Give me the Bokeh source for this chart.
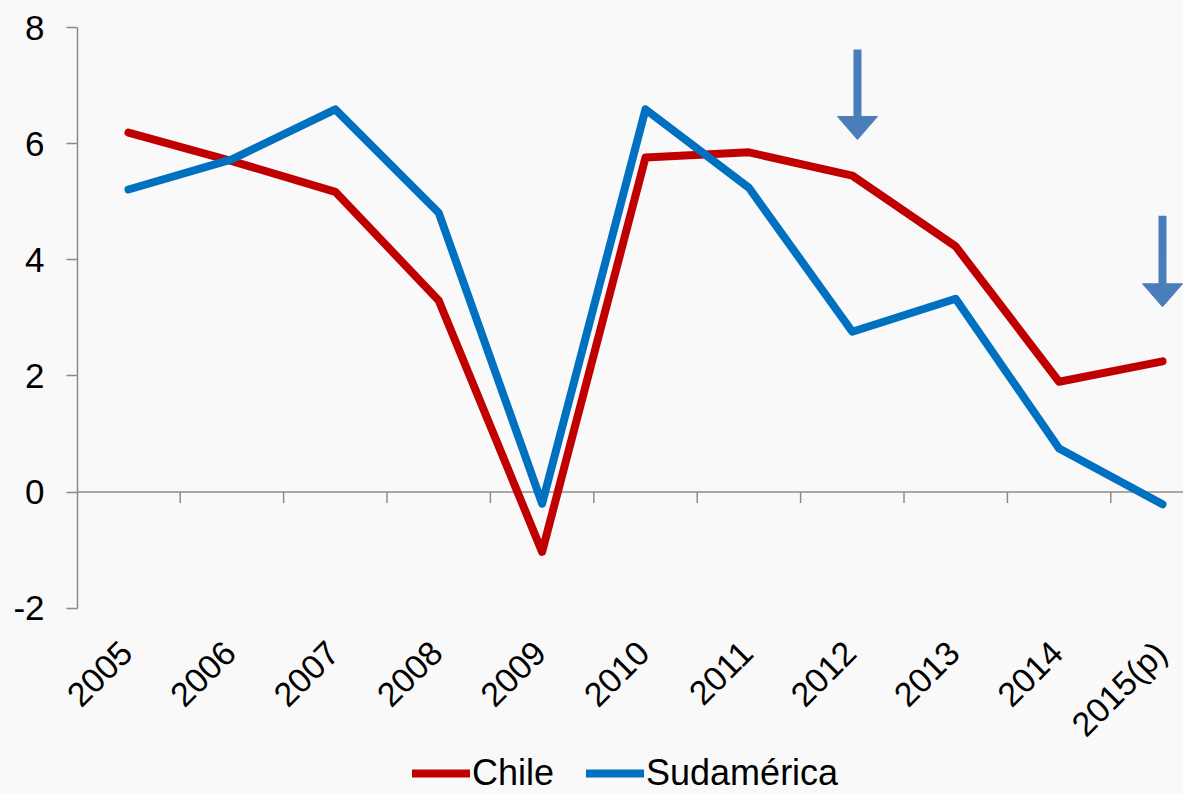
import math
from bokeh.plotting import figure
from bokeh.models import Range1d, FixedTicker, Legend, LegendItem
from bokeh.core.properties import value
from bokeh.embed import file_html
from bokeh.resources import INLINE

# ---- data ----
years = ["2005", "2006", "2007", "2008", "2009", "2010", "2011", "2012", "2013", "2014", "2015(p)"]
chile = [6.19, 5.70, 5.17, 3.30, -1.03, 5.76, 5.85, 5.45, 4.23, 1.90, 2.25]
sudamerica = [5.21, 5.73, 6.59, 4.81, -0.20, 6.59, 5.24, 2.76, 3.33, 0.75, -0.21]
y_ticks = [-2, 0, 2, 4, 6, 8]

# annotation arrows (category index, top value, tip value)
arrow_x = [7.05, 10]
arrow_top = [7.62, 4.76]
arrow_tip = [6.07, 3.19]

FONT = "Liberation Sans"
RED = "#c00000"
BLUE = "#0070c0"
ARROW = "#4a7ebb"
GREY = "#8c8c8c"
BG = "#f9f9f9"

W, H = 1183, 794
TOP_PX = 27                # pixel position of the top value tick
PX_PER_UNIT = 58.07        # vertical scale of the value axis
PX_PER_CAT = 103.4         # horizontal spacing of categories
FIRST_CAT_PX = 128         # pixel position of first category
AXIS_PX = 77               # pixel position of the value axis

x_start = -FIRST_CAT_PX / PX_PER_CAT
x_end = x_start + W / PX_PER_CAT
axis_x = (AXIS_PX - FIRST_CAT_PX) / PX_PER_CAT
y_end = y_ticks[-1] + TOP_PX / PX_PER_UNIT
y_start = y_end - H / PX_PER_UNIT

p = figure(width=W, height=H, output_backend="svg", toolbar_location=None,
           x_range=Range1d(x_start, x_end), y_range=Range1d(y_start, y_end),
           x_axis_location=None,
           min_border_left=0, min_border_top=0, min_border_bottom=0, min_border_right=0)
p.background_fill_color = BG
p.border_fill_color = BG
p.outline_line_color = None
p.grid.visible = False

# value axis, fixed at the left of the category area, spanning -2..8
ya = p.yaxis[0]
ya.fixed_location = axis_x
ya.bounds = (y_ticks[0], y_ticks[-1])
ya.ticker = FixedTicker(ticks=y_ticks)
ya.major_label_overrides = {t: str(t) for t in y_ticks}
ya.axis_line_color = GREY
ya.axis_line_width = 1.5
ya.major_tick_line_color = GREY
ya.major_tick_line_width = 1.5
ya.major_tick_out = 11
ya.major_tick_in = 0
ya.minor_tick_line_color = None
ya.major_label_standoff = 22
ya.major_label_text_font = FONT
ya.major_label_text_font_size = "35px"
ya.major_label_text_color = "black"

# zero line with category boundary ticks
p.segment(x0=[axis_x], y0=[0], x1=[x_end], y1=[0], line_color=GREY, line_width=1.5)
bounds = [i + 0.5 for i in range(len(years))]
p.ray(x=bounds, y=[0] * len(bounds), length=11, length_units="screen",
      angle=-math.pi / 2, line_color=GREY, line_width=1.5)

xs = list(range(len(years)))

# category labels, rotated 45 degrees, below the bottom of the value axis
p.text(x=xs, y=[y_ticks[0]] * len(xs), text=years, angle=math.pi / 4,
       text_align="right", text_baseline="middle", x_offset=-2, y_offset=39,
       text_font=value(FONT), text_font_size="34px", text_color="black")

r_chile = p.line(xs, chile, line_color=RED, line_width=8, line_cap="round", line_join="round")
r_sud = p.line(xs, sudamerica, line_color=BLUE, line_width=8, line_cap="round", line_join="round")

# arrows: shaft + triangular head (head size given in pixels, converted to data units)
head_half_w = 20 / PX_PER_CAT
head_h = 23 / PX_PER_UNIT
p.segment(x0=arrow_x, y0=arrow_top, x1=arrow_x, y1=[t + head_h * 0.9 for t in arrow_tip],
          line_color=ARROW, line_width=8)
p.patches(xs=[[x - head_half_w, x + head_half_w, x] for x in arrow_x],
          ys=[[t + head_h, t + head_h, t] for t in arrow_tip],
          fill_color=ARROW, line_color=ARROW, line_width=1)

legend = Legend(items=[LegendItem(label="Chile", renderers=[r_chile]),
                       LegendItem(label="Sudamérica", renderers=[r_sud])],
                orientation="horizontal", location=(412, 0),
                padding=0, margin=0, spacing=32, label_standoff=2,
                glyph_width=58, glyph_height=30, label_height=30,
                label_text_font=FONT, label_text_font_size="36px",
                label_text_color="black", label_text_baseline="middle",
                background_fill_alpha=0, border_line_color=None)
p.add_layout(legend, "center")

open("out.html", "w").write(file_html(p, INLINE))
